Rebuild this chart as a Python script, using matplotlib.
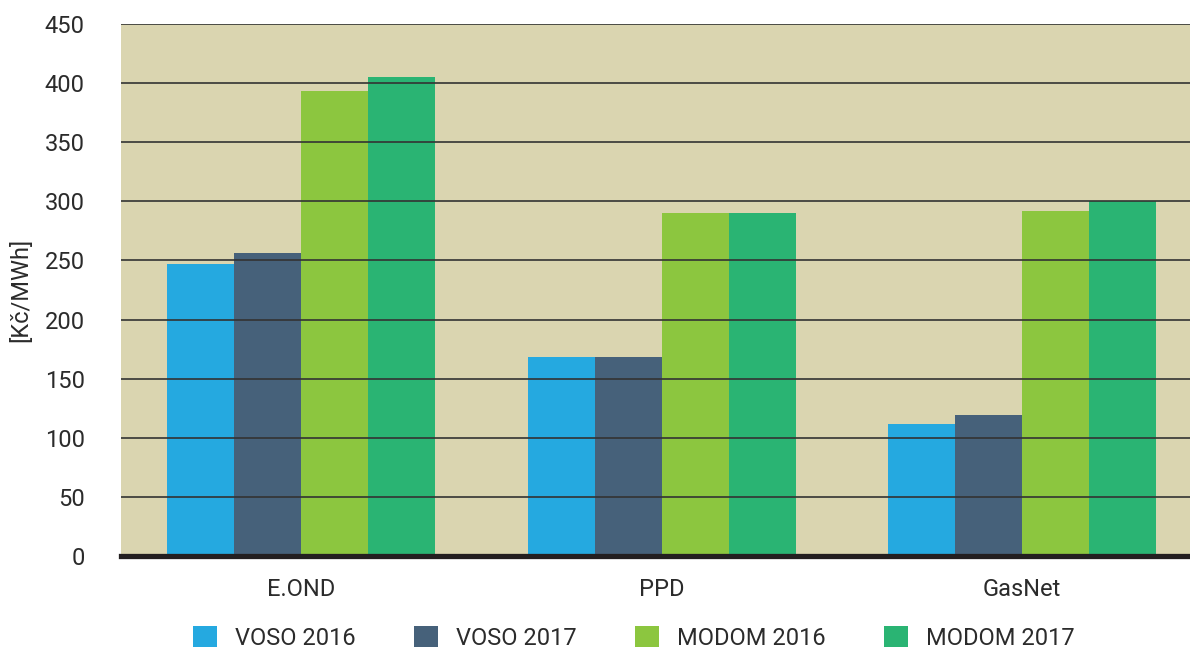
import matplotlib
matplotlib.use("Agg")
import matplotlib.pyplot as plt
import numpy as np
from matplotlib.patches import Patch

categories = ["E.OND", "PPD", "GasNet"]
series_names = ["VOSO 2016", "VOSO 2017", "MODOM 2016", "MODOM 2017"]
voso_2016 = [247, 168, 112]
voso_2017 = [256, 168, 119]
modom_2016 = [393, 290, 292]
modom_2017 = [405, 290, 300]
yticks = [0, 50, 100, 150, 200, 250, 300, 350, 400, 450]
ylabel = "[Kč/MWh]"

colors = ["#25A9E0", "#46617A", "#8CC63F", "#2AB473"]
bg = "#DAD5B0"

plt.rcParams['font.family'] = ['Roboto', 'DejaVu Sans']

fig = plt.figure(figsize=(11.9, 6.51), dpi=100)
ax = fig.add_axes([121/1190, 1-556/651, 1-121/1190, (556-24)/651])
ax.set_facecolor(bg)

x = np.arange(len(categories))
w = 0.186
all_series = [voso_2016, voso_2017, modom_2016, modom_2017]
for i, (vals, c) in enumerate(zip(all_series, colors)):
    ax.bar(x + (i - 1.5) * w, vals, width=w, color=c, zorder=2, linewidth=0)

ax.set_xlim(-0.5, 2.466)
ax.set_ylim(0, 450)
ax.set_yticks(yticks)
ax.set_xticks(x)
ax.set_xticklabels(categories)
ax.yaxis.grid(True, color="#333333", linewidth=1.2, zorder=3)
ax.set_axisbelow(False)
for s in ["left", "right", "top"]:
    ax.spines[s].set_visible(False)
ax.spines["bottom"].set_color("#231F20")
ax.spines["bottom"].set_linewidth(3.8)
ax.spines["bottom"].set_zorder(4)
ax.tick_params(axis="both", length=0, labelsize=17, colors="#2b2b2b")
ax.tick_params(axis="y", pad=26)
ax.tick_params(axis="x", pad=16)
ax.set_ylabel(ylabel, fontsize=17, color="#2b2b2b", labelpad=9)

handles = [Patch(facecolor=c, edgecolor='none') for c in colors]
fig.legend(handles, series_names, loc="center", ncol=4,
           bbox_to_anchor=(634/1190, 1-638/651), frameon=False,
           fontsize=17, handlelength=1.0, handleheight=1.0,
           handletextpad=0.8, columnspacing=2.45, labelcolor="#2b2b2b")

fig.savefig("out.png", dpi=100)
